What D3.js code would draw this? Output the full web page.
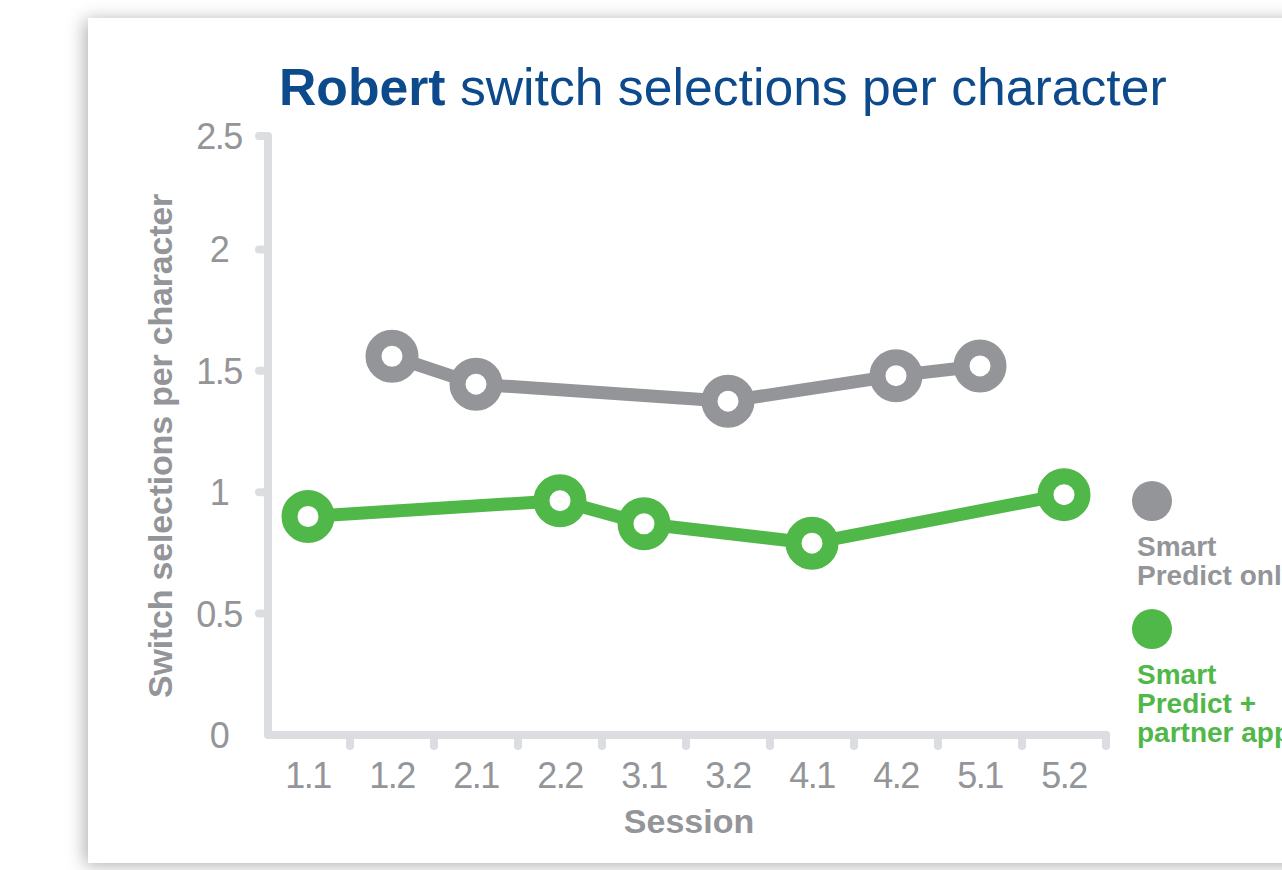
<!DOCTYPE html>
<html>
<head>
  <meta charset="utf-8">
  <title>Robert switch selections per character</title>
  <script src="https://d3js.org/d3.v7.min.js"></script>
  <style>
    body { margin: 0; background: #fff; }
    svg { display: block; }
    text { font-family: "Liberation Sans", Arial, Helvetica, sans-serif; }
  </style>
</head>
<body>
  <svg width="1282" height="870"></svg>
  <script>
    // Data
    var sessions = ["1.1", "1.2", "2.1", "2.2", "3.1", "3.2", "4.1", "4.2", "5.1", "5.2"];
    var smartOnly = [null, 1.56, 1.445, null, null, 1.375, null, 1.48, 1.52, null];
    var smartPartner = [0.90, null, null, 0.965, 0.87, null, 0.79, null, null, 0.99];
    var yTicks = [0, 0.5, 1, 1.5, 2, 2.5];
    var seriesNames = [["Smart", "Predict only"], ["Smart", "Predict +", "partner app"]];

    var grey = "#939598";
    var green = "#50b848";
    var axisColor = "#dcdde0";
    var blue = "#0c4a8c";

    var svg = d3.select("svg");

    // Card with soft shadow
    var defs = svg.append("defs");
    var filter = defs.append("filter")
      .attr("id", "shadow")
      .attr("x", "-10%").attr("y", "-10%")
      .attr("width", "120%").attr("height", "120%");
    filter.append("feDropShadow")
      .attr("dx", -3).attr("dy", 2)
      .attr("stdDeviation", 9)
      .attr("flood-color", "#000")
      .attr("flood-opacity", 0.32);

    svg.append("rect")
      .attr("x", 88).attr("y", 18)
      .attr("width", 1260).attr("height", 845)
      .attr("fill", "#fff")
      .attr("filter", "url(#shadow)");

    // Scales
    var xScale = d3.scaleBand()
      .domain(sessions)
      .range([266, 1106]);

    var yScale = d3.scaleLinear()
      .domain([0, 2.5])
      .range([735, 128]);

    // Axes (drawn by hand so they get the thick rounded look)
    var x0 = 268, yBase = yScale(0), yTop = yScale(2.5) + 8;

    svg.append("path")
      .attr("d", "M" + (x0 - 9) + "," + yTop + "H" + x0 + "V" + yBase + "H" + xScale.range()[1])
      .attr("fill", "none")
      .attr("stroke", axisColor)
      .attr("stroke-width", 8)
      .attr("stroke-linejoin", "round")
      .attr("stroke-linecap", "round");

    svg.selectAll(".ytick")
      .data(yTicks.filter(function(d) { return d > 0 && d < 2.5; }))
      .enter()
      .append("line")
      .attr("x1", x0 - 9).attr("x2", x0)
      .attr("y1", function(d) { return yScale(d); })
      .attr("y2", function(d) { return yScale(d); })
      .attr("stroke", axisColor)
      .attr("stroke-width", 8)
      .attr("stroke-linecap", "round");

    svg.selectAll(".xtick")
      .data(sessions)
      .enter()
      .append("line")
      .attr("x1", function(d) { return xScale(d) + xScale.bandwidth(); })
      .attr("x2", function(d) { return xScale(d) + xScale.bandwidth(); })
      .attr("y1", yBase).attr("y2", yBase + 11)
      .attr("stroke", axisColor)
      .attr("stroke-width", 8)
      .attr("stroke-linecap", "round");

    // Tick labels
    svg.selectAll(".ylabel")
      .data(yTicks)
      .enter()
      .append("text")
      .attr("x", 219)
      .attr("y", function(d) { return (d === 2.5 ? yTop : yScale(d)) + 13; })
      .attr("text-anchor", "middle")
      .attr("fill", grey)
      .style("font-size", "36px")
      .style("letter-spacing", "-1.5px")
      .text(function(d) { return d; });

    svg.selectAll(".xlabel")
      .data(sessions)
      .enter()
      .append("text")
      .attr("x", function(d) { return xScale(d) + xScale.bandwidth() / 2; })
      .attr("y", 788)
      .attr("text-anchor", "middle")
      .attr("fill", grey)
      .style("font-size", "36px")
      .style("letter-spacing", "-1.5px")
      .text(function(d) { return d; });

    // Axis titles
    svg.append("text")
      .attr("transform", "translate(172, 446) rotate(-90)")
      .attr("text-anchor", "middle")
      .attr("fill", grey)
      .style("font-size", "34px")
      .style("font-weight", "bold")
      .style("letter-spacing", "-0.2px")
      .text("Switch selections per character");

    svg.append("text")
      .attr("x", 689)
      .attr("y", 833)
      .attr("text-anchor", "middle")
      .attr("fill", grey)
      .style("font-size", "34px")
      .style("font-weight", "bold")
      .text("Session");

    // Title
    var title = svg.append("text")
      .attr("x", 279)
      .attr("y", 105)
      .attr("fill", blue)
      .style("font-size", "51.7px");
    title.append("tspan").style("font-weight", "bold").text("Robert");
    title.append("tspan").text(" switch selections per character");

    // Series
    var series = [
      { values: smartOnly, color: grey },
      { values: smartPartner, color: green }
    ];

    var line = d3.line()
      .x(function(d) { return xScale(d.session) + xScale.bandwidth() / 2; })
      .y(function(d) { return yScale(d.value); });

    series.forEach(function(s) {
      var pts = sessions.map(function(name, i) { return { session: name, value: s.values[i] }; })
        .filter(function(d) { return d.value !== null; });

      svg.append("path")
        .datum(pts)
        .attr("d", line)
        .attr("fill", "none")
        .attr("stroke", s.color)
        .attr("stroke-width", 13)
        .attr("stroke-linejoin", "round");

      svg.selectAll(null)
        .data(pts)
        .enter()
        .append("circle")
        .attr("cx", function(d) { return xScale(d.session) + xScale.bandwidth() / 2; })
        .attr("cy", function(d) { return yScale(d.value); })
        .attr("r", 18.5)
        .attr("fill", "#fff")
        .attr("stroke", s.color)
        .attr("stroke-width", 16);
    });

    // Legend
    var legendTop = [501, 629];
    series.forEach(function(s, i) {
      svg.append("circle")
        .attr("cx", 1152)
        .attr("cy", legendTop[i])
        .attr("r", 20)
        .attr("fill", s.color);

      var t = svg.append("text")
        .attr("x", 1137)
        .attr("y", legendTop[i] + 55)
        .attr("fill", s.color)
        .style("font-size", "28px")
        .style("font-weight", "bold");
      seriesNames[i].forEach(function(word, j) {
        t.append("tspan")
          .attr("x", 1137)
          .attr("dy", j === 0 ? 0 : 29)
          .text(word);
      });
    });
  </script>
</body>
</html>
